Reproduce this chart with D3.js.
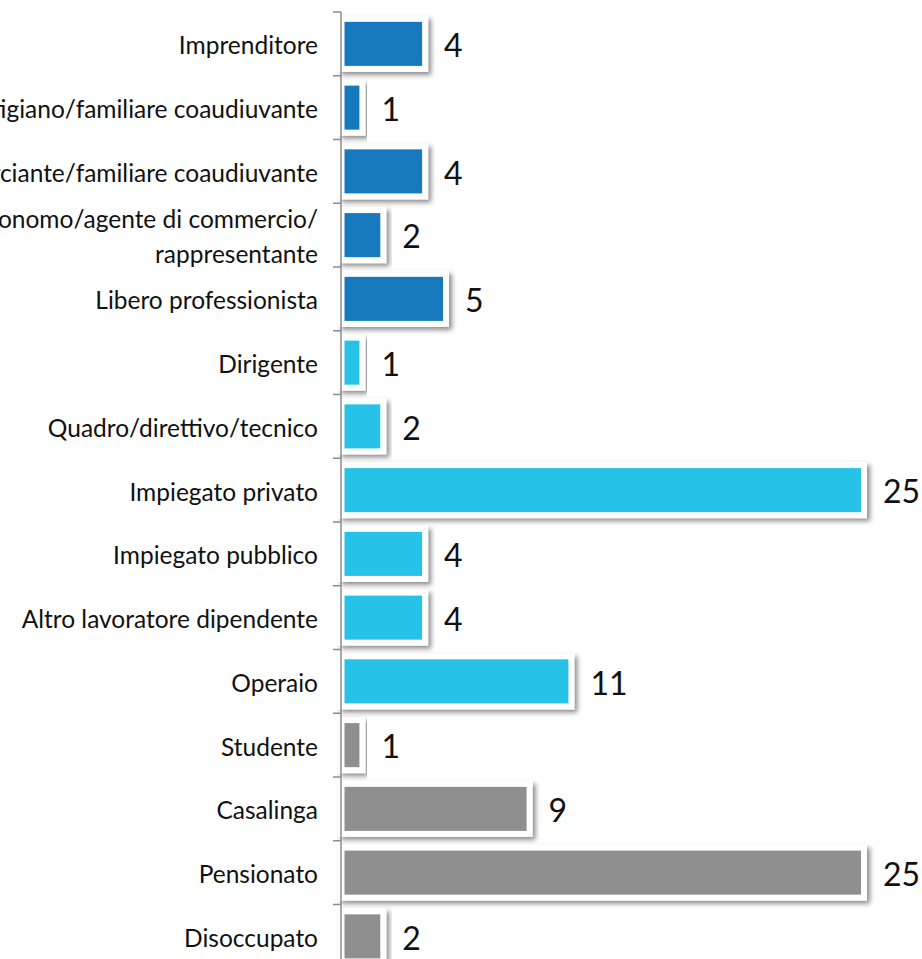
<!DOCTYPE html>
<html>
<head>
<meta charset="utf-8">
<script src="https://cdn.jsdelivr.net/npm/d3@7"></script>
<style>
    body { margin: 0; background: #fff; }
    svg { display: block; }
</style>
</head>
<body>
<div id="chart"></div>
<script>
// categories, top to bottom
var categories = [
    "Imprenditore",
    "Artigiano/familiare coaudiuvante",
    "Commerciante/familiare coaudiuvante",
    "Lavoratore autonomo/agente di commercio/rappresentante",
    "Libero professionista",
    "Dirigente",
    "Quadro/direttivo/tecnico",
    "Impiegato privato",
    "Impiegato pubblico",
    "Altro lavoratore dipendente",
    "Operaio",
    "Studente",
    "Casalinga",
    "Pensionato",
    "Disoccupato"
];
var values = [4, 1, 4, 2, 5, 1, 2, 25, 4, 4, 11, 1, 9, 25, 2];
// which group each category belongs to
var groups = ["autonomo", "autonomo", "autonomo", "autonomo", "autonomo",
    "dipendente", "dipendente", "dipendente", "dipendente", "dipendente", "dipendente",
    "non occupato", "non occupato", "non occupato", "non occupato"];
var groupNames = ["autonomo", "dipendente", "non occupato"];
var groupColors = ["#1879be", "#25c2e7", "#8f8f8f"];

var width = 922, height = 959;

var svg = d3.select("#chart").append("svg")
    .attr("width", width)
    .attr("height", height);

// drop shadow for the bars
var defs = svg.append("defs");
var filter = defs.append("filter")
    .attr("id", "shadow")
    .attr("x", "-20%").attr("y", "-30%")
    .attr("width", "140%").attr("height", "170%");
filter.append("feDropShadow")
    .attr("dx", 3)
    .attr("dy", 3)
    .attr("stdDeviation", 2.5)
    .attr("flood-color", "#000")
    .attr("flood-opacity", 0.45);

var axisX = 341;
var step = 63.75;

var y = d3.scaleBand()
    .domain(categories)
    .range([12, 12 + step * categories.length])
    .paddingInner(0.215)
    .paddingOuter(0.1075);

var x = d3.scaleLinear()
    .domain([0, 25])
    .range([axisX + 0.5, axisX + 0.5 + 25 * 20.9]);

var color = d3.scaleOrdinal().domain(groupNames).range(groupColors);

// bars
svg.append("g")
    .selectAll("rect")
    .data(categories)
    .enter().append("rect")
    .attr("x", x(0))
    .attr("y", function(d) { return y(d); })
    .attr("width", function(d, i) { return x(values[i]) - x(0); })
    .attr("height", y.bandwidth())
    .attr("fill", function(d, i) { return color(groups[i]); })
    .attr("stroke", "#fff")
    .attr("stroke-width", 6)
    .attr("filter", "url(#shadow)");

// axis line and ticks at the band boundaries
var axis = svg.append("g")
    .attr("stroke", "#8c8c8c")
    .attr("stroke-width", 1.5);

axis.append("line")
    .attr("x1", axisX).attr("x2", axisX)
    .attr("y1", y.range()[0]).attr("y2", y.range()[1]);

var boundaries = d3.range(categories.length + 1).map(function(i) {
    return y.range()[0] + i * y.step();
});
axis.selectAll(".tick")
    .data(boundaries)
    .enter().append("line")
    .attr("x1", axisX - 8).attr("x2", axisX)
    .attr("y1", function(d) { return d; })
    .attr("y2", function(d) { return d; });

// category labels, wrapped after "/" or space when too long
var labelFont = "Lato, 'Noto Sans', sans-serif";
var labels = svg.append("g")
    .attr("font-family", labelFont)
    .attr("font-size", 24.5)
    .attr("fill", "#111")
    .attr("text-anchor", "end");

labels.selectAll("text")
    .data(categories)
    .enter().append("text")
    .attr("x", axisX - 23)
    .each(function(d) {
        var text = d3.select(this);
        var cy = y(d) + y.bandwidth() / 2 + 2;
        var tokens = d.match(/[^\s\/]+[\s\/]?/g);
        var lines = [], line = "";
        var probe = text.append("tspan");
        tokens.forEach(function(t) {
            var test = line + t;
            probe.text(test.trim());
            if (line && probe.node().getComputedTextLength() > 500) {
                lines.push(line.trim());
                line = t;
            } else {
                line = test;
            }
        });
        lines.push(line.trim());
        probe.remove();
        var lineHeight = 35;
        lines.forEach(function(l, k) {
            text.append("tspan")
                .attr("x", axisX - 23)
                .attr("y", cy + (k - (lines.length - 1) / 2) * lineHeight)
                .attr("dy", "0.35em")
                .text(l);
        });
    });

// value labels
svg.append("g")
    .attr("font-family", labelFont)
    .attr("font-size", 32)
    .attr("fill", "#111")
    .selectAll("text")
    .data(categories)
    .enter().append("text")
    .attr("x", function(d, i) { return x(values[i]) + 19; })
    .attr("y", function(d) { return y(d) + y.bandwidth() / 2 + 2; })
    .attr("dy", "0.35em")
    .text(function(d, i) { return values[i]; });
</script>
</body>
</html>
